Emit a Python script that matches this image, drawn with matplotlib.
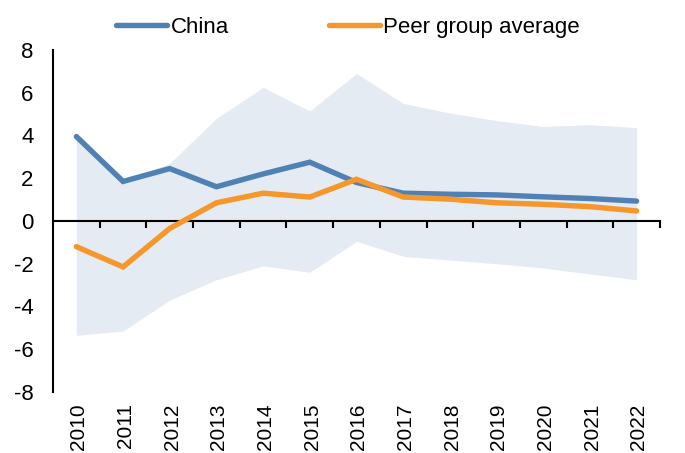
import matplotlib
matplotlib.use("Agg")
import matplotlib.pyplot as plt
import matplotlib.transforms as mtransforms
import numpy as np

# dữ liệu
years = ["2010", "2011", "2012", "2013", "2014", "2015", "2016",
         "2017", "2018", "2019", "2020", "2021", "2022"]
china = [3.95, 1.85, 2.45, 1.6, 2.2, 2.75, 1.8, 1.3, 1.25, 1.22, 1.13, 1.05, 0.93]
peer_avg = [-1.2, -2.15, -0.35, 0.85, 1.3, 1.12, 1.95, 1.12, 1.02, 0.85, 0.78, 0.67, 0.47]
peer_max = [3.9, 1.9, 2.7, 4.8, 6.25, 5.15, 6.9, 5.5, 5.05, 4.7, 4.42, 4.5, 4.37]
peer_min = [-5.35, -5.15, -3.7, -2.75, -2.1, -2.4, -0.95, -1.65, -1.83, -2.0, -2.2, -2.48, -2.75]

plt.rcParams['font.family'] = ['Liberation Sans', 'DejaVu Sans']
plt.rcParams['axes.unicode_minus'] = False

fig = plt.figure(figsize=(6.85, 4.53), dpi=100)
ax = fig.add_axes([0.0774, 0.1347, 0.886, 0.755])

x = np.arange(len(years))
ax.fill_between(x, peer_min, peer_max, color='#e5ebf3', linewidth=0, zorder=1)
ax.plot(x, china, color='#4f81b5', lw=3.9, label='China', zorder=3,
        solid_capstyle='round', solid_joinstyle='miter')
ax.plot(x, peer_avg, color='#f5972a', lw=3.9, label='Peer group average', zorder=4,
        solid_capstyle='round', solid_joinstyle='miter')

ax.set_xlim(-0.5, len(years) - 0.5)
ax.set_ylim(-8, 8)
ax.set_yticks(range(-8, 9, 2))
ax.tick_params(axis='y', length=0, pad=14, labelsize=16)

# trục x nằm ở 0, vạch chia giữa các năm
ax.spines['top'].set_visible(False)
ax.spines['right'].set_visible(False)
ax.spines['bottom'].set_position(('data', 0))
ax.spines['left'].set_linewidth(1.5)
ax.spines['bottom'].set_linewidth(1.5)
ax.set_xticks(np.arange(0.5, len(years), 1))
ax.set_xticklabels([])
ax.tick_params(axis='x', direction='out', length=5, width=1.5)

trans = mtransforms.blended_transform_factory(ax.transData, ax.transAxes)
for i, yr in enumerate(years):
    ax.text(i + 0.05, -0.033, yr, transform=trans, rotation=90, ha='center', va='top',
            fontsize=15)

fig.legend(loc='center', bbox_to_anchor=(0.508, 0.94), ncol=2, frameon=False,
           fontsize=16, handlelength=2.3, handletextpad=0.15, columnspacing=4.5)

fig.savefig("out.png", dpi=100)
